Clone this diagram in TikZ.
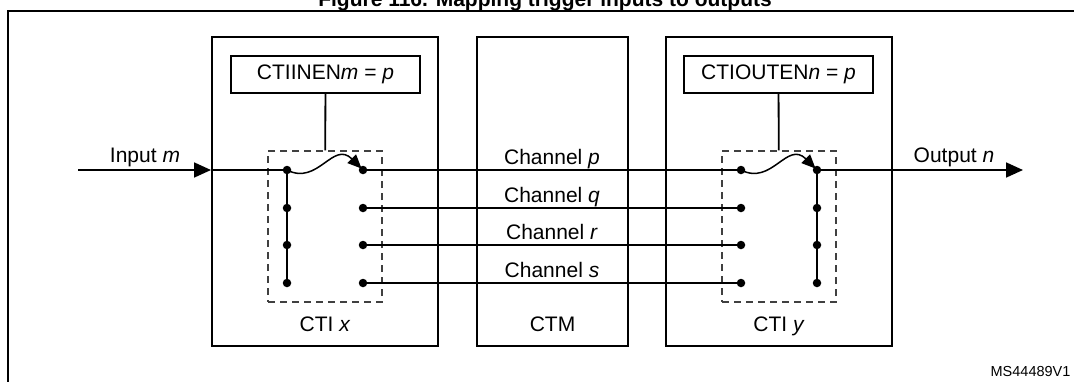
\documentclass[tikz,border=0pt]{standalone}
\usepackage{fontspec}
\setmainfont{Liberation Sans}
\usetikzlibrary{arrows.meta}
\begin{document}
\begin{tikzpicture}[x=1pt, y=-1pt,
  every node/.style={font=\fontsize{21}{25}\selectfont},
  blk/.style={draw, line width=2pt, minimum width=226pt, minimum height=309pt, inner sep=0pt},
  cfg/.style={draw, line width=1.4pt, minimum width=189pt, minimum height=37pt, inner sep=0pt},
  sel/.style={draw=black!75, dashed, dash pattern=on 7pt off 5pt, line width=1.4pt, minimum width=114pt, minimum height=151pt, inner sep=0pt},
  dot/.style={circle, fill, inner sep=0pt, minimum size=8.5pt},
  ln/.style={line width=1.8pt},
  arr/.style={line width=1.8pt, -{Triangle[length=17pt, width=15pt]}},
  lbl/.style={anchor=base}
]
\useasboundingbox (0,0) rectangle (1074,381);
\node[font=\fontsize{21}{25}\selectfont\bfseries, anchor=base] (title) at (545,6) {Figure 116. Mapping trigger inputs to outputs};
\draw[line width=2pt] (8,400) -- (8,11) -- (1090,11);
% CTI and CTM blocks
\node[blk] (ctix) at (325,191.5) {};
\node[blk, minimum width=151pt] (ctm) at (552.5,191.5) {};
\node[blk] (ctiy) at (779,191.5) {};
\node[lbl] (ctixl) at (325,331) {CTI \textit{x}};
\node[lbl] (ctml) at (552.5,331) {CTM};
\node[lbl] (ctiyl) at (779,331) {CTI \textit{y}};
% enable registers and switch areas
\node[cfg] (inen) at (325.5,74.5) {CTIINEN\textit{m} = \textit{p}};
\node[cfg] (outen) at (778.5,74.5) {CTIOUTEN\textit{n} = \textit{p}};
\node[sel] (selx) at (325,226.5) {};
\node[sel] (sely) at (779,226.5) {};
\draw[ln] (inen) -- (selx);
\draw[ln] (outen) -- (sely);
% channel contacts
\foreach \i/\y in {1/170,2/208,3/245,4/283} {
  \node[dot] (xl\i) at (287,\y) {};
  \node[dot] (xr\i) at (363,\y) {};
  \node[dot] (yl\i) at (741,\y) {};
  \node[dot] (yr\i) at (817,\y) {};
}
\draw[ln] (xl1.center) -- (xl4.center);
\draw[ln] (yr1.center) -- (yr4.center);
\draw[ln] (xr1) -- (yl1);
\draw[ln] (xr2) -- (yl2);
\draw[ln] (xr3) -- (yl3);
\draw[ln] (xr4) -- (yl4);
\node[lbl] (chp) at (552,164) {Channel \textit{p}};
\node[lbl] (chq) at (552,202) {Channel \textit{q}};
\node[lbl] (chr) at (552,239) {Channel \textit{r}};
\node[lbl] (chs) at (552,277) {Channel \textit{s}};
% switches
\draw[ln, line width=1.5pt, -{Triangle[length=14pt, width=12pt]}, shorten >=2pt] (xl1.center) .. controls (318,186) and (333,140) .. (xr1.center);
\draw[ln, line width=1.5pt, -{Triangle[length=14pt, width=12pt]}, shorten >=2pt] (yl1.center) .. controls (772,186) and (787,140) .. (yr1.center);
% input and output
\coordinate (inm) at (78,170);
\coordinate (outn) at (1023,170);
\draw[arr] (inm) -- (inm -| ctix.west);
\draw[ln] (inm -| ctix.west) -- (xl1);
\draw[arr] (yr1) -- (outn);
\node[lbl] (inml) at (145,162) {Input \textit{m}};
\node[lbl] (outnl) at (954,162) {Output \textit{n}};
\node[anchor=base east, font=\fontsize{14.5}{18}\selectfont] (ref) at (1074,376) {MS44489V1};
\end{tikzpicture}
\end{document}
